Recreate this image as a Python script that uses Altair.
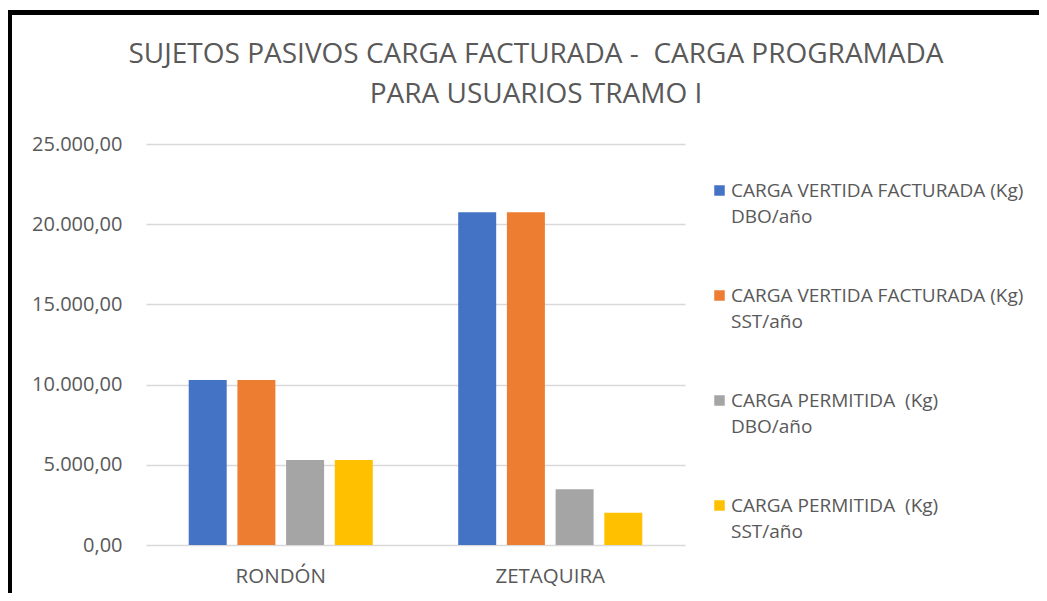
import altair as alt
import pandas as pd

categories = ["RONDÓN", "ZETAQUIRA"]
series = [
    "CARGA VERTIDA FACTURADA (Kg) DBO/año",
    "CARGA VERTIDA FACTURADA (Kg) SST/año",
    "CARGA PERMITIDA  (Kg) DBO/año",
    "CARGA PERMITIDA  (Kg) SST/año",
]
series_lines = [
    ["CARGA VERTIDA FACTURADA (Kg)", "DBO/año"],
    ["CARGA VERTIDA FACTURADA (Kg)", "SST/año"],
    ["CARGA PERMITIDA\u00a0 (Kg)", "DBO/año"],
    ["CARGA PERMITIDA\u00a0 (Kg)", "SST/año"],
]
values_rondon = [10290, 10290, 5300, 5300]
values_zetaquira = [20740, 20740, 3470, 2010]
colors = ["#4472C4", "#ED7D31", "#A5A5A5", "#FFC000"]
y_ticks = [0, 5000, 10000, 15000, 20000, 25000]
title_lines = ["SUJETOS PASIVOS CARGA FACTURADA -\u00a0 CARGA PROGRAMADA", "PARA USUARIOS TRAMO I"]

rows = []
for cat, vals in zip(categories, [values_rondon, values_zetaquira]):
    for s, v in zip(series, vals):
        rows.append({"categoria": cat, "serie": s, "valor": v})
df = pd.DataFrame(rows)

# legend label expression (two-line labels)
label_expr = ""
for s, lines in zip(series, series_lines):
    label_expr += f"datum.label == '{s}' ? ['{lines[0]}', '{lines[1]}'] : "
label_expr += "datum.label"

FONT = "Open Sans"
TXT = "#595959"

bars = alt.Chart(df).mark_bar().encode(
    x=alt.X("categoria:N", sort=categories,
            scale=alt.Scale(paddingInner=0, paddingOuter=0),
            axis=alt.Axis(title=None, labelAngle=0, ticks=False, domain=False,
                          labelPadding=21, labelFontSize=20.5, labelColor=TXT, labelFont=FONT)),
    xOffset=alt.XOffset("serie:N", sort=series,
                        scale=alt.Scale(paddingInner=0.22, paddingOuter=0.877)),
    y=alt.Y("valor:Q",
            scale=alt.Scale(domain=[0, 25000]),
            axis=alt.Axis(title=None, values=y_ticks, ticks=False, domain=False,
                          labelPadding=24, labelFontSize=20, labelColor=TXT, labelFont=FONT,
                          gridColor="#D9D9D9", gridWidth=1.5,
                          labelExpr="replace(replace(replace(format(datum.value, ',.2f'), ',', '#'), '.', ','), '#', '.')")),
    color=alt.Color("serie:N", sort=series,
                    scale=alt.Scale(domain=series, range=colors),
                    legend=alt.Legend(title=None, orient="none", legendX=564, legendY=37,
                                      symbolType="square", symbolSize=110, symbolStrokeWidth=0,
                                      labelFontSize=19, labelColor=TXT, labelFont=FONT,
                                      labelExpr=label_expr, labelBaseline="middle",
                                      labelLimit=400, rowPadding=59, padding=0,
                                      labelOffset=2)),
)

border_v = alt.Chart(df).mark_rule(color="black", strokeWidth=5).encode(
    x=alt.value(-136.5), y=alt.value(-134), y2=alt.value(460))
border_h = alt.Chart(df).mark_rule(color="black", strokeWidth=5).encode(
    x=alt.value(-139), x2=alt.value(900), y=alt.value(-131.5))

chart = alt.layer(bars, border_v, border_h).properties(
    width=539, height=401,
    autosize=alt.AutoSizeParams(type="none"),
    padding={"left": 138, "top": 136, "right": 354, "bottom": 48},
    title=alt.TitleParams(title_lines, anchor="middle", fontSize=28, font=FONT,
                          fontWeight="normal", color=TXT, lineHeight=40,
                          offset=-101, dx=120.5, frame="group"),
).configure(
    background="white",
    style={"guide-label": {"lineHeight": 26}},
).configure_view(stroke=None)

chart.save("out.html", embed_options={"renderer": "svg", "actions": False})
